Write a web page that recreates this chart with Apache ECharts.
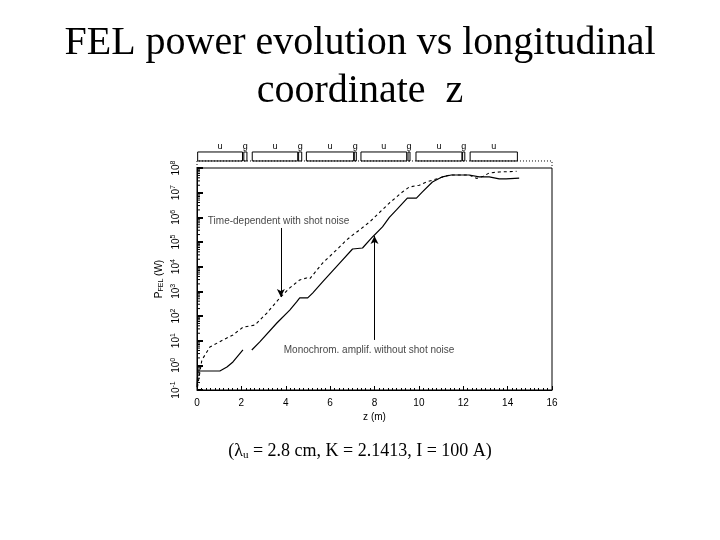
<!DOCTYPE html>
<html><head><meta charset="utf-8">
<script src="https://cdn.jsdelivr.net/npm/echarts@6/dist/echarts.min.js"></script>
<style>html,body{margin:0;padding:0;background:#fff}#c{width:720px;height:540px}</style>
</head><body><div id="c"></div>
<script>
// ---- data ----
const xTicks = [0, 2, 4, 6, 8, 10, 12, 14, 16];
const yDecades = [0.1, 1, 10, 100, 1e3, 1e4, 1e5, 1e6, 1e7, 1e8];

// Monochromatic amplifier without shot noise (solid)
const monoZ = [0, 0.04, 1.03, 1.35, 1.62, 2.07, 2.2, 2.47, 2.83, 3.6, 4.18, 4.49, 4.63, 4.99, 5.21, 5.66, 6.43, 7.01, 7.46, 7.91, 8.36, 8.67, 8.99, 9.48, 9.89, 10.16, 10.61, 11.06, 11.46, 12.27, 12.72, 13.17, 13.62, 13.93, 14.52];
const monoP = [0.13, 0.59, 0.59, 0.85, 1.37, 4.2, null, 4.2, 8.9, 52, 174, 370, 540, 540, 850, 2400, 1.4e4, 5.2e4, 5.7e4, 1.6e5, 4.1e5, 1.0e6, 2.0e6, 6.0e6, 6.0e6, 1.07e7, 2.7e7, 4.4e7, 5.2e7, 5.2e7, 4.4e7, 4.4e7, 3.6e7, 3.6e7, 3.9e7];

// Time-dependent with shot noise (dashed)
const tdZ = [0.02, 0.22, 0.58, 1.17, 1.62, 2.07, 2.61, 3.15, 3.73, 4.18, 4.63, 4.94, 5.08, 5.66, 6.29, 6.74, 7.01, 7.33, 7.78, 8.67, 9.26, 9.57, 10.02, 10.34, 10.92, 11.37, 12.27, 12.6, 12.9, 13.17, 13.62, 14.4];
const tdP = [0.13, 1.65, 5.5, 10.7, 17, 35, 43, 132, 540, 1380, 2900, 3500, 3200, 1.4e4, 4.8e4, 1.2e5, 1.9e5, 3.1e5, 6.5e5, 3.8e6, 1.07e7, 1.7e7, 2.0e7, 2.7e7, 3.9e7, 5.2e7, 5.2e7, 3.8e7, 4.6e7, 6.3e7, 6.9e7, 7.3e7];

// Undulator (u) sections and gaps (g) above the plot, in z (m)
const undulators = [[0.03, 2.05], [2.49, 4.54], [4.93, 7.06], [7.39, 9.45], [9.87, 11.94], [12.31, 14.44]];
const gaps = [[2.11, 2.25], [4.58, 4.72], [7.09, 7.18], [9.51, 9.6], [11.97, 12.07]];

// Annotations
const annoTexts = [
  { text: 'Time-dependent with shot noise', z: 0.49, p: 7.1e5 },
  { text: 'Monochrom. amplif. without shot noise', z: 3.91, p: 4.2 }
];
const annoArrows = [
  { z: 3.78, from: 3.7e5, to: 590 },
  { z: 8.0, from: 10.7, to: 1.74e5 }
];
// minor log ticks: multipliers within each decade
const minorMult = [2, 3, 4, 5, 6, 7, 8, 9];

// ---- build ----
const sans = 'Liberation Sans, Arial, sans-serif';
const serif = 'Liberation Serif, Times New Roman, serif';
const mono = monoZ.map((z, i) => [z, monoP[i] === null ? '-' : monoP[i]]);
const td = tdZ.map((z, i) => [z, tdP[i]]);
const minorData = [];
yDecades.slice(0, -1).forEach(d => minorMult.forEach(m => minorData.push([0, d * m])));

const boxData = [];
undulators.forEach(u => boxData.push([u[0], u[1], 'u']));
gaps.forEach(g => boxData.push([g[0], g[1], 'g']));

const chart = echarts.init(document.getElementById('c'), null, { renderer: 'canvas' });
chart.setOption({
  animation: false,
  backgroundColor: '#fff',
  title: [
    { text: 'FEL power evolution vs longitudinal\ncoordinate  z', left: 'center', top: 19, padding: 0,
      textStyle: { fontFamily: serif, fontSize: 40, fontWeight: 'normal', color: '#000', lineHeight: 48 } },
    { text: '(λ{s|u} = 2.8 cm, K = 2.1413, I = 100 A)', left: 'center', top: 442, padding: 0,
      textStyle: { fontFamily: serif, fontSize: 18, fontWeight: 'normal', color: '#000',
        rich: { s: { fontFamily: serif, fontSize: 11, padding: [8, 0, 0, 0], color: '#000' } } } }
  ],
  grid: [
    { left: 197, right: 168, top: 168, bottom: 150, show: true, borderColor: '#000', borderWidth: 1 },
    { left: 197, right: 168, top: 150, height: 18 }
  ],
  xAxis: [
    { type: 'value', gridIndex: 0, min: 0, max: 16, interval: 2,
      name: 'z (m)', nameLocation: 'middle', nameGap: 22,
      nameTextStyle: { fontFamily: sans, fontSize: 10, color: '#000' },
      axisLine: { lineStyle: { color: '#000', width: 1 } },
      axisTick: { inside: true, length: 4, lineStyle: { color: '#000' } },
      minorTick: { show: true, splitNumber: 10, length: 2, lineStyle: { color: '#000' } },
      axisLabel: { margin: 8, fontFamily: sans, fontSize: 10, color: '#000' },
      splitLine: { show: false } },
    { type: 'value', gridIndex: 1, min: 0, max: 16, show: false }
  ],
  yAxis: [
    { type: 'log', gridIndex: 0, logBase: 10, min: 0.1, max: 1e8,
      name: '{n|P}{s|FEL}{n| (W)}', nameLocation: 'middle', nameGap: 32, nameRotate: 90,
      nameTextStyle: { rich: { n: { fontFamily: sans, fontSize: 10, color: '#000' }, s: { fontFamily: sans, fontSize: 7, color: '#000', padding: [5, 0, 0, 0] } } },
      axisLine: { show: true, lineStyle: { color: '#000', width: 1 } },
      axisTick: { show: true, inside: true, length: 6, lineStyle: { color: '#000', width: 2 } },
      axisLabel: { rotate: 90, margin: 14, color: '#000',
        formatter: v => '{b|10}{e|' + Math.round(Math.log10(v)) + '}',
        rich: { b: { fontFamily: sans, fontSize: 10, color: '#000' }, e: { fontFamily: sans, fontSize: 7, color: '#000', padding: [0, 0, 6, 0] } } },
      splitLine: { show: false } },
    { type: 'value', gridIndex: 1, min: 0, max: 1, show: false }
  ],
  series: [
    { type: 'line', xAxisIndex: 0, yAxisIndex: 0, data: mono, showSymbol: false, connectNulls: false,
      lineStyle: { color: '#000', width: 1.2 }, z: 3,
      markLine: { silent: true, symbol: ['none', 'arrow'], symbolSize: [6, 8], label: { show: false },
        lineStyle: { color: '#000', width: 1, type: 'solid' },
        data: annoArrows.map(a => [{ coord: [a.z, a.from] }, { coord: [a.z, a.to] }]) } },
    { type: 'line', xAxisIndex: 0, yAxisIndex: 0, data: td, showSymbol: false,
      lineStyle: { color: '#000', width: 1.1, type: [3, 3] }, z: 3 },
    { type: 'scatter', xAxisIndex: 0, yAxisIndex: 0, symbolSize: 0, silent: true,
      data: annoTexts.map(a => ({ value: [a.z, a.p], label: { formatter: a.text } })),
      label: { show: true, position: 'right', distance: 0, fontFamily: sans, fontSize: 10, color: '#111' } },
    { type: 'custom', xAxisIndex: 0, yAxisIndex: 0, silent: true, data: minorData, clip: false,
      renderItem: (params, api) => {
        const p = api.coord([0, api.value(1)]);
        return { type: 'line', shape: { x1: p[0], y1: p[1], x2: p[0] + 3, y2: p[1] }, style: { stroke: '#000', lineWidth: 1 } };
      } },
    { type: 'custom', xAxisIndex: 1, yAxisIndex: 1, silent: true, data: boxData, clip: false,
      renderItem: (params, api) => {
        const a = api.coord([api.value(0), 0.89]);
        const b = api.coord([api.value(1), 0.39]);
        const isU = boxData[params.dataIndex][2] === 'u';
        const c = api.coord([(api.value(0) + api.value(1)) / 2, 1]);
        return { type: 'group', children: [
          { type: 'rect', shape: { x: a[0], y: a[1], width: b[0] - a[0], height: b[1] - a[1] },
            style: { fill: isU ? 'none' : '#fff', stroke: '#000', lineWidth: 1 } },
          { type: 'text', style: { text: boxData[params.dataIndex][2], x: c[0], y: c[1] + 1, align: 'center', verticalAlign: 'bottom',
            font: '9px ' + sans, fill: '#000' } }
        ] };
      } },
    { type: 'line', xAxisIndex: 1, yAxisIndex: 1, silent: true, showSymbol: false,
      data: [[0, 0], [0, 0.39], [16, 0.39], [16, 0]],
      lineStyle: { color: '#000', width: 1, type: [1, 2] } }
  ]
});
</script>
</body></html>
